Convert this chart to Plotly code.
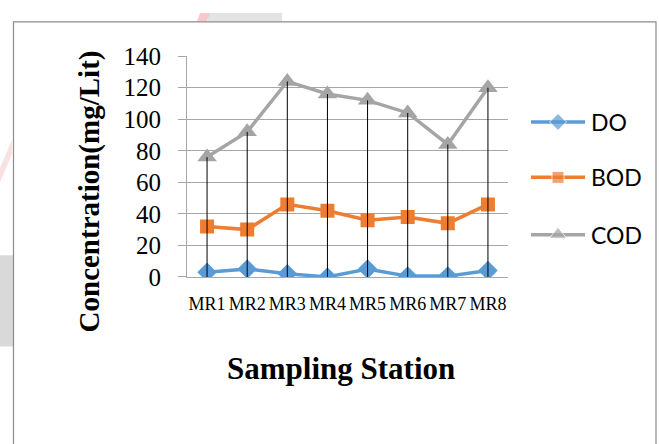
import plotly.graph_objects as go

# Sampling data (mg/Lit)
stations = ["MR1", "MR2", "MR3", "MR4", "MR5", "MR6", "MR7", "MR8"]
do_vals = [3, 5, 2, 0, 5, 0.5, 0.5, 4]
bod_vals = [32, 30, 46, 42, 36, 38, 34, 46]
cod_vals = [76, 92, 124, 116, 112, 104, 84, 120]

y_ticks = [0, 20, 40, 60, 80, 100, 120, 140]

series = [
    ("DO", do_vals, "#5B9BD5", "diamond", 15),
    ("BOD", bod_vals, "#ED7D31", "square", 14),
    ("COD", cod_vals, "#A5A5A5", "triangle-up", 17),
]

W, H = 659, 444
# plot-area box in pixels
PX0, PX1, PY0, PY1 = 187, 508, 46, 281

SERIF = "Liberation Serif"
SANS = "Lato"

fig = go.Figure()

for name, vals, color, sym, size in series:
    fig.add_trace(go.Scatter(
        x=stations, y=vals, mode="lines+markers", name=name,
        line=dict(color=color, width=3.5),
        marker=dict(symbol=sym, size=size, color=color),
        showlegend=False, xaxis="x", yaxis="y",
    ))

# drop lines from each station's highest reading down to the axis
dx, dy = [], []
for s, v in zip(stations, cod_vals):
    dx += [s, s, None]
    dy += [0, v, None]
fig.add_trace(go.Scatter(x=dx, y=dy, mode="lines",
                         line=dict(color="black", width=1),
                         showlegend=False, hoverinfo="skip"))

# hand-drawn legend on its own small axes
legend_rows = [116, 175, 236]
for (name, vals, color, sym, size), ly in zip(series, legend_rows):
    fig.add_trace(go.Scatter(
        x=[0, 0.5, 1], y=[ly, ly, ly], mode="lines+markers",
        line=dict(color=color, width=3.5),
        marker=dict(symbol=sym, size=[0, size - 2, 0], color=color),
        showlegend=False, hoverinfo="skip", xaxis="x2", yaxis="y2",
    ))
    fig.add_annotation(x=589 / W, y=1 - ly / H, xref="paper", yref="paper",
                       text=name, showarrow=False, xanchor="left", yanchor="middle",
                       font=dict(family=SANS, size=23, color="black"))

fig.update_layout(
    width=W, height=H,
    margin=dict(l=0, r=0, t=0, b=0),
    paper_bgcolor="white", plot_bgcolor="white",
    showlegend=False,
    xaxis=dict(
        domain=[PX0 / W, PX1 / W], type="category", range=[-0.5, 7.5],
        showgrid=False, showline=True, linecolor="#a6a6a6", linewidth=1,
        ticks="", tickfont=dict(family=SERIF, size=18, color="black"),
        ticklabelstandoff=10, zeroline=False,
    ),
    yaxis=dict(
        domain=[1 - PY1 / H, 1 - PY0 / H], range=[0, 140],
        tickvals=y_ticks, ticktext=[str(v) for v in y_ticks],
        showgrid=True, gridcolor="#a6a6a6", gridwidth=1,
        showline=True, linecolor="#a6a6a6", linewidth=1,
        ticks="outside", ticklen=8, tickcolor="#a6a6a6",
        tickfont=dict(family=SERIF, size=25, color="black"),
        ticklabelstandoff=12, zeroline=False,
    ),
    xaxis2=dict(domain=[531 / W, 585 / W], range=[0, 1], visible=False, anchor="y2"),
    yaxis2=dict(domain=[0, 1], range=[H, 0], visible=False, anchor="x2"),
)

# axis titles
fig.add_annotation(x=89 / W, y=1 - 190 / H, xref="paper", yref="paper",
                   text="<b>Concentration(mg/Lit)</b>", textangle=-90, showarrow=False,
                   xanchor="center", yanchor="middle",
                   font=dict(family=SERIF, size=29, color="black"))
fig.add_annotation(x=341 / W, y=1 - 378 / H, xref="paper", yref="paper",
                   text="<b>Sampling Station</b>", showarrow=False,
                   xanchor="center", yanchor="middle",
                   font=dict(family=SERIF, size=31, color="black"))

# chart frame
fig.add_shape(type="rect", xref="paper", yref="paper",
              x0=13.5 / W, x1=656 / W, y0=-0.05, y1=1 - 9.5 / H,
              line=dict(color="#8c8c8c", width=1.2), fillcolor="rgba(0,0,0,0)")

# faint background marks outside the frame
fig.add_shape(type="rect", xref="paper", yref="paper",
              x0=0, x1=13 / W, y0=1 - 355 / H, y1=1 - 258 / H,
              line=dict(width=0), fillcolor="#d9d9d9", layer="below")
fig.add_shape(type="rect", xref="paper", yref="paper",
              x0=208 / W, x1=282 / W, y0=1 - 9 / H, y1=1,
              line=dict(width=0), fillcolor="#e3e3e3", layer="below")
fig.add_shape(type="path", xref="paper", yref="paper",
              path=f"M {200/W},1 L {210/W},1 L {207/W},{1-9/H} L {197/W},{1-9/H} Z",
              line=dict(width=0), fillcolor="#f6c9cc", layer="below")
fig.add_shape(type="path", xref="paper", yref="paper",
              path=f"M 0,{1-165/H} L {12/W},{1-135/H} L {12/W},{1-150/H} L 0,{1-180/H} Z",
              line=dict(width=0), fillcolor="#fbe0e2", layer="below")

fig.write_html("out.html")
